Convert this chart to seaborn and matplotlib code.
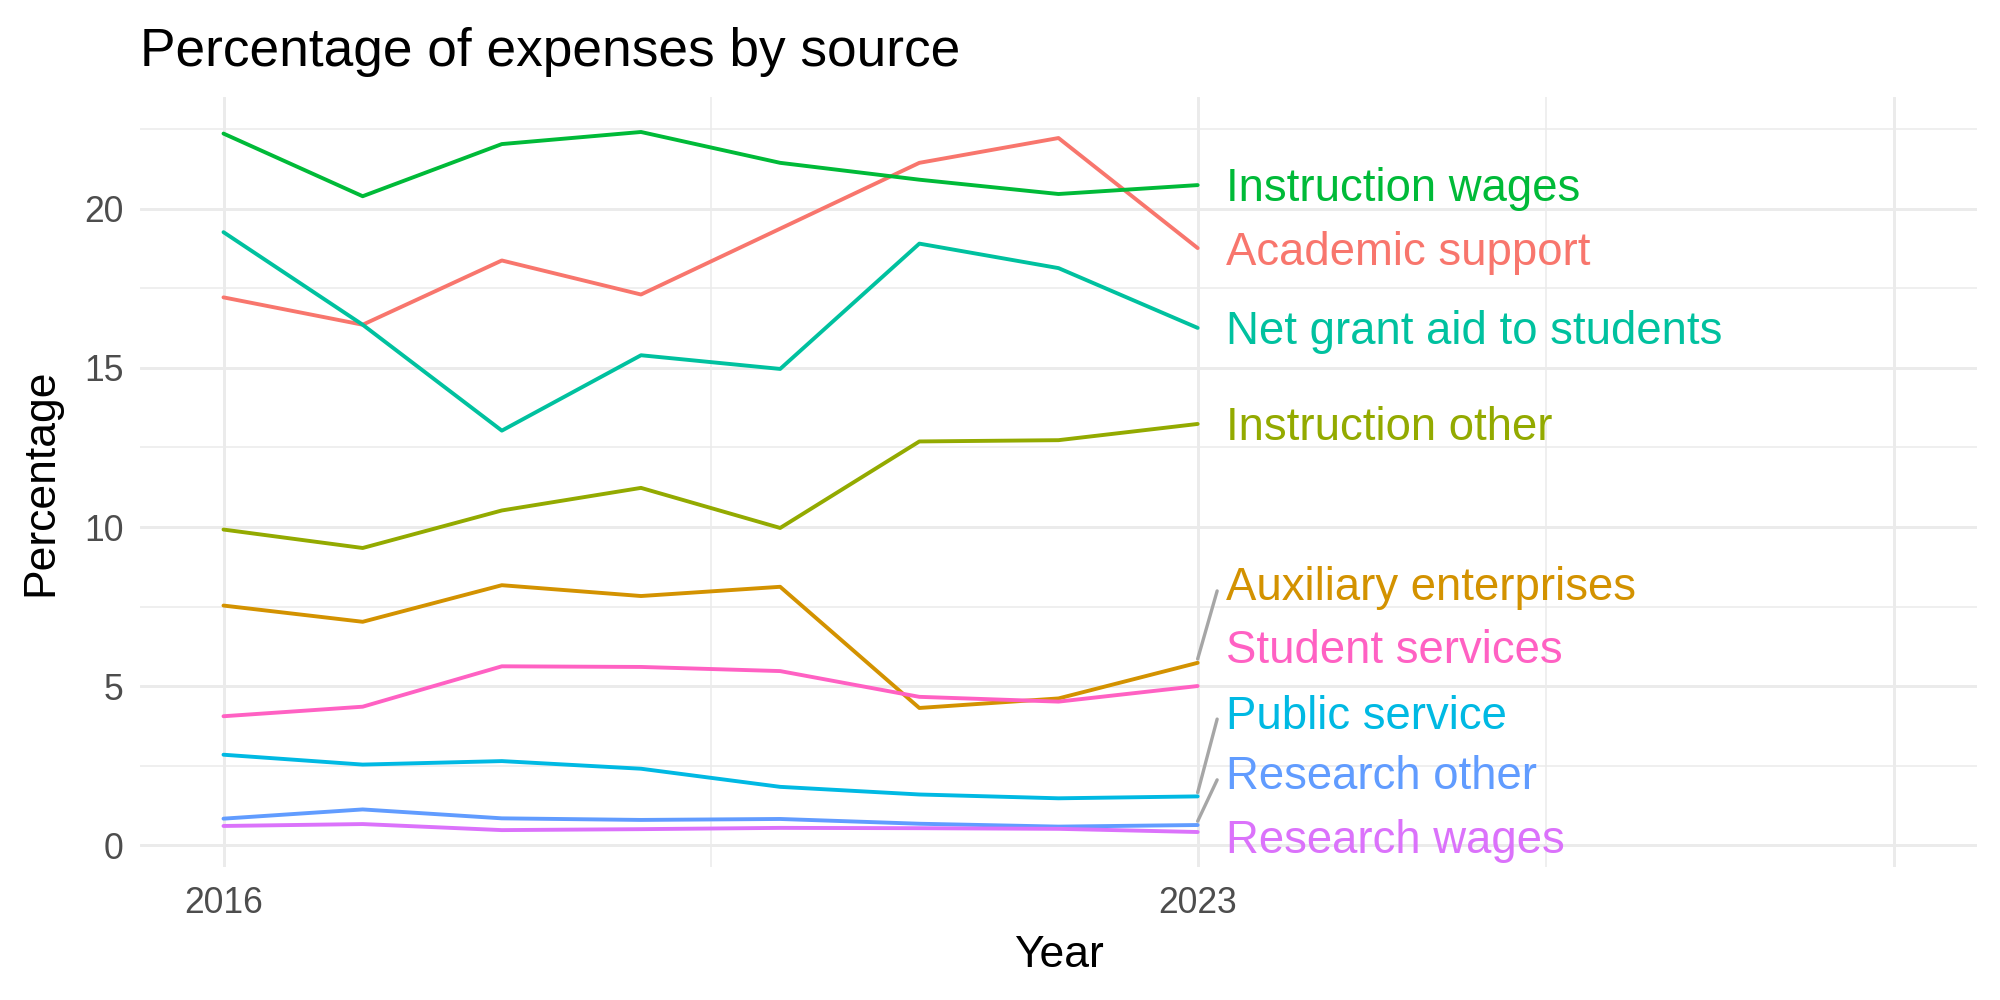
import pandas as pd
import matplotlib
matplotlib.use("Agg")
import matplotlib.pyplot as plt
import seaborn as sns

# Data
years = [2016, 2017, 2018, 2019, 2020, 2021, 2022, 2023]

academic_support = [17.22, 16.36, 18.38, 17.31, 19.38, 21.45, 22.23, 18.77]
auxiliary_enterprises = [7.53, 7.02, 8.17, 7.83, 8.12, 4.31, 4.61, 5.73]
instruction_other = [9.92, 9.34, 10.52, 11.23, 9.97, 12.69, 12.73, 13.24]
instruction_wages = [22.37, 20.40, 22.04, 22.42, 21.45, 20.92, 20.47, 20.75]
net_grant_aid = [19.27, 16.36, 13.03, 15.40, 14.97, 18.91, 18.14, 16.26]
public_service = [2.84, 2.53, 2.64, 2.40, 1.83, 1.59, 1.47, 1.53]
research_other = [0.83, 1.12, 0.84, 0.79, 0.82, 0.67, 0.58, 0.63]
research_wages = [0.60, 0.66, 0.47, 0.50, 0.54, 0.53, 0.51, 0.41]
student_services = [4.05, 4.35, 5.62, 5.60, 5.47, 4.66, 4.51, 5.00]

sources = ["Academic support", "Auxiliary enterprises", "Instruction other",
           "Instruction wages", "Net grant aid to students", "Public service",
           "Research other", "Research wages", "Student services"]
series = [academic_support, auxiliary_enterprises, instruction_other,
          instruction_wages, net_grant_aid, public_service,
          research_other, research_wages, student_services]

# ggplot default hue palette
colors = ["#F8766D", "#D39200", "#93AA00", "#00BA38", "#00C19F",
          "#00B9E3", "#619CFF", "#DB72FB", "#FF61C3"]

# repelled label positions (y) next to the last point
label_y = [18.6, 8.07, 13.12, 20.62, 16.12, 4.04, 2.13, 0.12, 6.09]
# which labels get a leader segment
with_segment = ["Auxiliary enterprises", "Public service", "Research other"]

rows = []
for name, vals in zip(sources, series):
    for yr, v in zip(years, vals):
        rows.append({"Year": yr, "Percentage": v, "Source": name})
df = pd.DataFrame(rows)

sns.set_style("white")
plt.rcParams["font.family"] = ["Liberation Sans", "DejaVu Sans"]
plt.rcParams["text.color"] = "black"
plt.rcParams["axes.labelcolor"] = "black"

fig = plt.figure(figsize=(10, 5), dpi=200)
ax = fig.add_axes([0.07, 0.133, 0.9185, 0.77])

# grid like theme_minimal
for x in [2016, 2023, 2028]:
    ax.axvline(x, color="#EBEBEB", lw=1.07, zorder=0)
for x in [2019.5, 2025.5]:
    ax.axvline(x, color="#EBEBEB", lw=0.55, zorder=0)
for y in [0, 5, 10, 15, 20]:
    ax.axhline(y, color="#EBEBEB", lw=1.07, zorder=0)
for y in [2.5, 7.5, 12.5, 17.5, 22.5]:
    ax.axhline(y, color="#EBEBEB", lw=0.55, zorder=0)

sns.lineplot(data=df, x="Year", y="Percentage", hue="Source",
             palette=dict(zip(sources, colors)), linewidth=1.4,
             legend=False, ax=ax, zorder=3)

# labels at the right end
for name, vals, c, ly in zip(sources, series, colors, label_y):
    last = vals[-1]
    if name in with_segment:
        ax.plot([2023, 2023.14], [last + 0.12, ly - 0.08], color="#A6A6A6",
                lw=1.2, zorder=2)
    ax.text(2023.2, ly, name, color=c, fontsize=16.4, va="center",
            ha="left", zorder=4)

ax.set_xlim(2015.4, 2028.6)
ax.set_ylim(-0.69, 23.52)
ax.set_xticks([2016, 2023, 2028])
ax.set_xticklabels(["2016", "2023", ""])
ax.set_yticks([0, 5, 10, 15, 20])
ax.tick_params(axis="both", length=0, labelsize=12.8, labelcolor="#4D4D4D")
ax.tick_params(axis="x", pad=7)
ax.tick_params(axis="y", pad=6)
for s in ax.spines.values():
    s.set_visible(False)
ax.grid(False)

ax.set_xlabel("Year", fontsize=16, labelpad=5)
ax.set_ylabel("Percentage", fontsize=16, labelpad=8)
ax.set_title("Percentage of expenses by source", fontsize=19.2, loc="left",
             pad=11)

fig.savefig("out.png", dpi=200)
